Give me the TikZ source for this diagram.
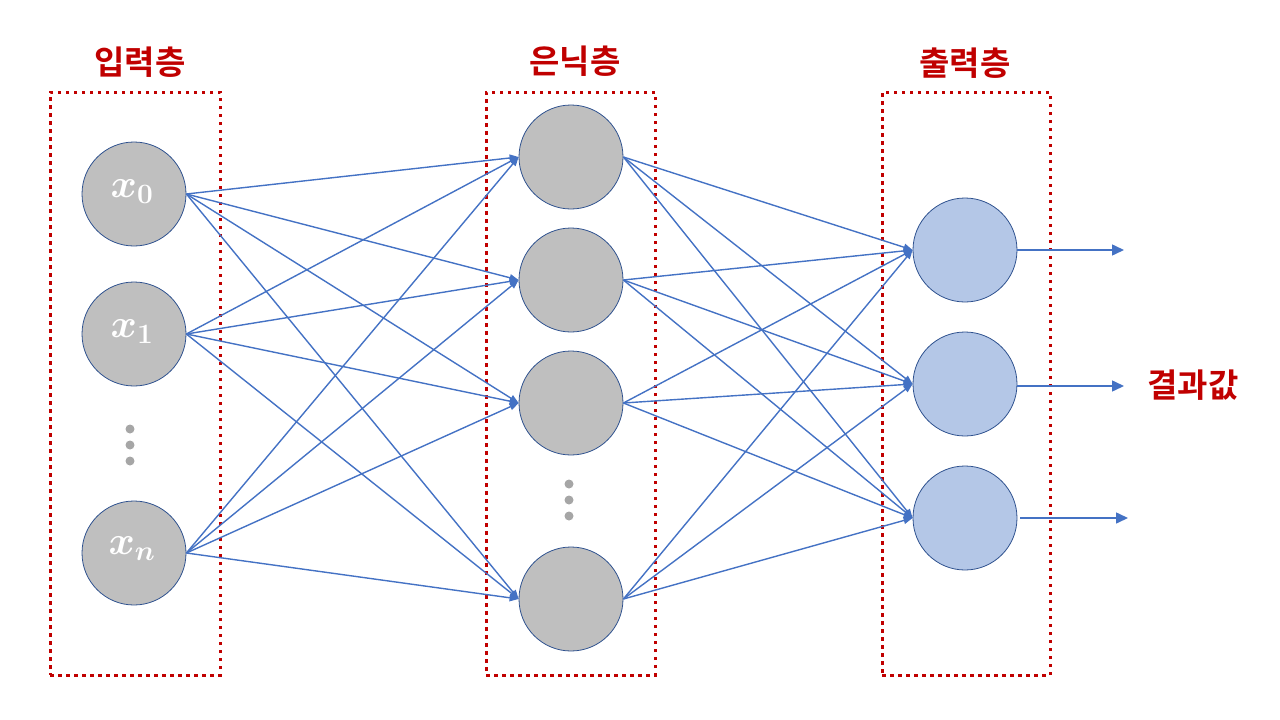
\documentclass[tikz,border=0pt]{standalone}
\usepackage{fix-cm}
\usepackage{fontspec}
\newfontfamily\kr{Noto Sans CJK KR}[BoldFont={Noto Sans CJK KR Bold}]
\usetikzlibrary{arrows.meta}
\definecolor{dred}{HTML}{C00000}
\definecolor{eblue}{HTML}{4472C4}
\definecolor{nborder}{HTML}{2F528F}
\definecolor{ngray}{HTML}{BFBFBF}
\definecolor{nblue}{HTML}{B4C7E7}
\definecolor{dotgray}{HTML}{A6A6A6}
\begin{document}
\begin{tikzpicture}[x=1pt,y=-1pt,
  neuron/.style={circle,draw=nborder,line width=0.8pt,fill=ngray,minimum size=104pt,inner sep=0pt},
  outneuron/.style={neuron,fill=nblue},
  layerbox/.style={draw=dred,line width=3pt,dash pattern=on 3.5pt off 4.5pt},
  conn/.style={draw=eblue,line width=1.4pt,-{Triangle[length=9pt,width=7pt]}},
  outconn/.style={draw=eblue,line width=1.5pt,-{Triangle[length=12pt,width=11pt]}},
  title/.style={text=dred,font=\kr\bfseries\fontsize{33}{36}\selectfont},
  dot/.style={circle,fill=dotgray,inner sep=0pt,minimum size=9pt},
  mlabel/.style={text=white,font=\fontsize{40}{44}\selectfont\boldmath}]
\useasboundingbox (0,0) rectangle (1280,720);
% boxes
\node[layerbox,minimum width=170pt,minimum height=583pt,inner sep=0pt] (boxin) at (135,383.5) {};
\node[layerbox,minimum width=169pt,minimum height=583pt,inner sep=0pt] (boxhid) at (570.5,383.5) {};
\node[layerbox,minimum width=168pt,minimum height=583pt,inner sep=0pt] (boxout) at (966,383.5) {};
% titles
\node[title] (tin) at (140,62) {입력층};
\node[title] (thid) at (575,61) {은닉층};
\node[title] (tout) at (965,63) {출력층};
% input neurons
\node[neuron] (i0) at (134,194) {};
\node[neuron] (i1) at (134,334) {};
\node[neuron] (in) at (134,553) {};
\node[mlabel] (l0) at (132,192) {$x_0$};
\node[mlabel] (l1) at (132,332) {$x_1$};
\node[mlabel] (ln) at (132,549) {$x_n$};
\node[dot] (d1) at (130,429) {};
\node[dot] (d2) at (130,445) {};
\node[dot] (d3) at (130,461) {};
% hidden neurons
\node[neuron] (h1) at (571,157) {};
\node[neuron] (h2) at (571,280) {};
\node[neuron] (h3) at (571,403) {};
\node[neuron] (h4) at (571,599) {};
\node[dot] (e1) at (569,484) {};
\node[dot] (e2) at (569,500) {};
\node[dot] (e3) at (569,516) {};
% output neurons
\node[outneuron] (o1) at (965,250) {};
\node[outneuron] (o2) at (965,384) {};
\node[outneuron] (o3) at (965,518) {};
% connections
\foreach \a in {i0,i1,in}{
  \foreach \b in {h1,h2,h3,h4}{
    \draw[conn] (\a.east) -- (\b.west);
  }
}
\foreach \a in {h1,h2,h3,h4}{
  \foreach \b in {o1,o2,o3}{
    \draw[conn] (\a.east) -- (\b.west);
  }
}
% outputs
\coordinate (r1) at (1124,250);
\coordinate (r2) at (1124,386);
\coordinate (r3) at (1128,518);
\draw[outconn] (o1.east) -- (r1);
\draw[outconn] (o2.east |- r2) -- (r2);
\draw[outconn] ([xshift=3pt]o3.east) -- (r3);
\node[title] (res) at (1193,385) {결과값};
\end{tikzpicture}
\end{document}
